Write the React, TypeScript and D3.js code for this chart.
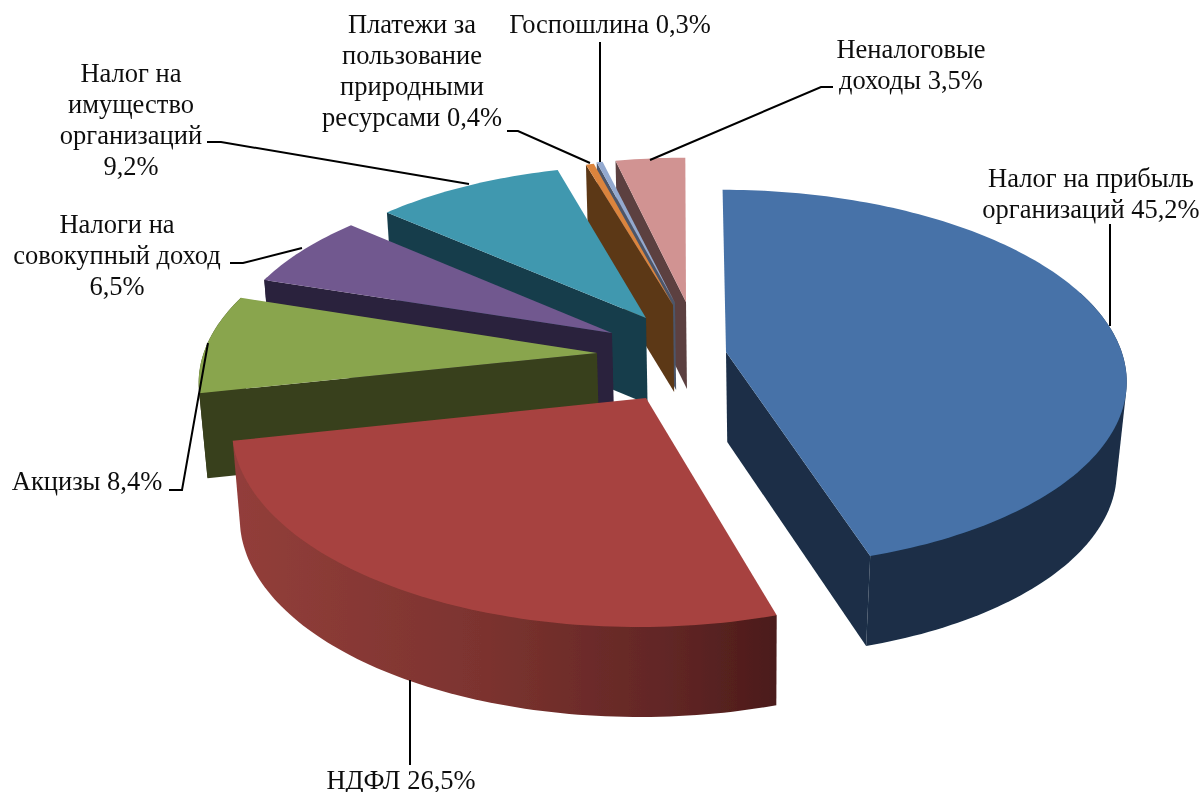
import React from "react";
import * as d3 from "d3";

// ---- data ----
const categories = ["Налог на прибыль организаций", "НДФЛ", "Акцизы", "Налоги на совокупный доход", "Налог на имущество организаций", "Платежи за пользование природными ресурсами", "Госпошлина", "Неналоговые доходы"];
const values = [45.2, 26.5, 8.4, 6.5, 9.2, 0.4, 0.3, 3.5];
const labelLines = [
  ["Налог на прибыль", "организаций 45,2%"],
  ["НДФЛ 26,5%"],
  ["Акцизы 8,4%"],
  ["Налоги на", "совокупный доход", "6,5%"],
  ["Налог на", "имущество", "организаций", "9,2%"],
  ["Платежи за", "пользование", "природными", "ресурсами 0,4%"],
  ["Госпошлина 0,3%"],
  ["Неналоговые", "доходы 3,5%"],
];

// ---- styles / layout ----
const topColors = ["#4672a8", "#a74340", "#89a54e", "#71588f", "#4198af", "#db843d", "#93a9cf", "#d19392"];
const wallColors = ["#1a2e47", "#6a2826", "#393f1c", "#2b213c", "#173e4b", "#5c3716", "#4d5669", "#5b4040"];
const apexX = [726, 646, 597, 612, 646, 673, 675, 686];
const apexY = [352, 398, 353, 333, 318, 305, 303, 302];
const rimDx = [3, -4, 0, -6, -4, -3, -2, 1];
const rimDy = [2, 1, 1, 0, 0, 1, 1, 1];
const radiusScale = [1, 1, 1, 0.97, 0.97, 0.94, 0.94, 0.94];
const depths = [90, 90, 85, 86, 86, 87, 87, 87];
const dropX0 = [693, 750, 750, 750, 750, 750, 750, 750];
const dropShrink = [0.977, 0.985, 0.985, 0.985, 0.985, 0.985, 0.985, 0.985];
const apexDropDx = [2, 0, 0, 0, 0, 0, 0, 0];
const drawOrder = [7, 6, 5, 4, 3, 2, 1, 0];
const labelCx = [1091, 401, 87, 117, 131, 412, 610, 911];
const labelBase = [187, 789, 490, 233, 82, 33, 33, 58];
const lineStep = 31;
const leaders = [
  [[1110, 224], [1110, 326]],
  [[410, 680], [410, 765]],
  [[169, 490], [182, 490], [208, 343]],
  [[230, 263], [243, 263], [302, 248]],
  [[207, 142], [221, 142], [469, 184]],
  [[507, 131], [518, 131], [590, 163]],
  [[600, 42], [600, 162]],
  [[833, 87], [821, 87], [650, 160]],
];

const CX = 670, CY = 358, RX = 395, RY = 187, K = 0.13;

const project = (X: number, Z: number): [number, number] => {
  const s = 1 / (1 - K * Z);
  return [CX + RX * X * s, CY + RY * Z * s];
};
const unproject = (x: number, y: number) => {
  const a = (y - CY) / RY;
  const Z = a / (1 + K * a);
  const s = 1 / (1 - K * Z);
  return [(x - CX) / RX / s, Z];
};

const line = d3.line();
const arcs = d3.pie<number>().sort(null).startAngle(0).endAngle(2 * Math.PI)(values);

const slices = arcs.map((a, i) => {
  const drop = ([x, y]: [number, number]): [number, number] => [dropX0[i] + (x - dropX0[i]) * dropShrink[i], y + depths[i]];
  const [ox, oz] = unproject(apexX[i], apexY[i]);
  const n = Math.max(2, Math.ceil((a.endAngle - a.startAngle) / 0.02));
  const rs = radiusScale[i];
  const angles = d3.range(n + 1).map((j) => a.startAngle + ((a.endAngle - a.startAngle) * j) / n);
  const rim = angles.map((t) => {
    const [px, py] = project(ox + rs * Math.sin(t), oz - rs * Math.cos(t));
    return [px + rimDx[i], py + rimDy[i]] as [number, number];
  });
  const apex: [number, number] = [apexX[i], apexY[i]];
  const rimB = rim.map(drop);
  const dropped = drop(apex);
  const apexB: [number, number] = [dropped[0] + apexDropDx[i], dropped[1]];
  // only the part of the rim that faces the viewer gets an outer wall
  const facing = rim.filter((_, j) => -Math.cos(angles[j]) > -0.35);
  const facingAll = [...facing, ...facing.map(drop)];
  const hull = facing.length >= 2 ? d3.polygonHull(facingAll) : null;
  return {
    i,
    top: line([apex, ...rim])! + "Z",
    startWall: Math.sin(a.startAngle) < -1e-6 ? line([apex, rim[0], rimB[0], apexB])! + "Z" : null,
    endWall: Math.sin(a.endAngle) > 1e-6 ? line([apex, rim[n], rimB[n], apexB])! + "Z" : null,
    outer: hull ? line(hull)! + "Z" : null,
  };
});

export default function App() {
  return (
    <svg width={1202} height={792} style={{ position: "absolute", left: 0, top: 0, background: "#fff" }}>
      <defs>
        <filter id="soft" x="-5%" y="-5%" width="110%" height="110%">
          <feGaussianBlur stdDeviation="0.6" />
        </filter>
        <filter id="softText" x="-5%" y="-5%" width="110%" height="110%">
          <feGaussianBlur stdDeviation="0.3" />
        </filter>
        <linearGradient id="redWall" gradientUnits="userSpaceOnUse" x1="240" x2="778" y1="0" y2="0">
          <stop offset="0" stopColor="#923e3a" />
          <stop offset="0.45" stopColor="#7c332f" />
          <stop offset="0.8" stopColor="#612625" />
          <stop offset="1" stopColor="#4b1b1a" />
        </linearGradient>
      </defs>
      <g filter="url(#soft)">
        {drawOrder.map((i) => {
          const s = slices[i];
          const outerFill = i === 1 ? "url(#redWall)" : wallColors[i];
          return (
            <g key={categories[i]}>
              {s.outer && <path d={s.outer} fill={outerFill} />}
              {s.startWall && <path d={s.startWall} fill={wallColors[i]} />}
              {s.endWall && <path d={s.endWall} fill={wallColors[i]} />}
              <path d={s.top} fill={topColors[i]} />
            </g>
          );
        })}
      </g>
      <g fill="none" stroke="#000" strokeWidth={2}>
        {leaders.map((pts, i) => (
          <path key={i} d={line(pts as [number, number][])!} />
        ))}
      </g>
      <g filter="url(#softText)" fontFamily="'Liberation Serif'" fontSize={26.5} fill="#111" textAnchor="middle">
        {labelLines.map((ls, i) =>
          ls.map((t, j) => (
            <text key={t} x={labelCx[i]} y={labelBase[i] + j * lineStep}>{t}</text>
          ))
        )}
      </g>
    </svg>
  );
}
